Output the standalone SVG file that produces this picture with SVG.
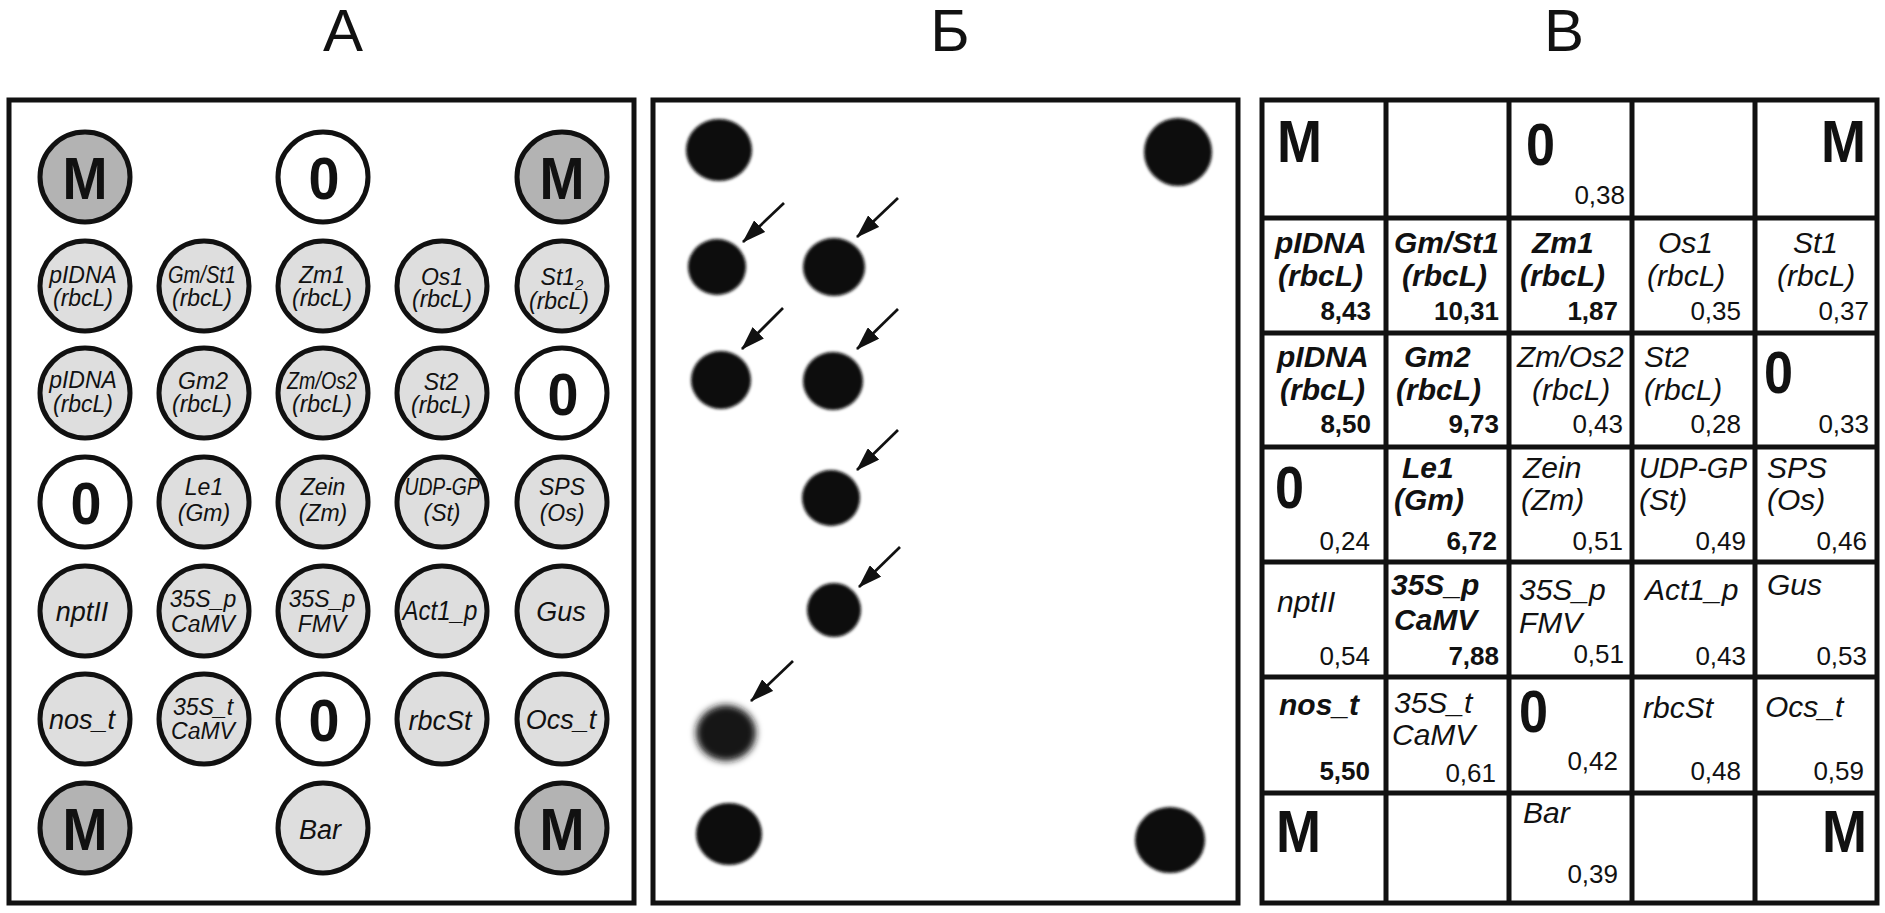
<svg xmlns="http://www.w3.org/2000/svg" width="1885" height="913" viewBox="0 0 1885 913">
<defs>
<style>
text{font-family:"Liberation Sans",Arial,sans-serif;fill:#111}
.ttl{font-size:60px;text-anchor:middle}
.box{fill:none;stroke:#111;stroke-width:5}
.cM{fill:#b3b3b3;stroke:#111;stroke-width:5}
.cL{fill:#dedede;stroke:#111;stroke-width:5}
.c0{fill:#fff;stroke:#111;stroke-width:5}
.big{font-size:60px;font-weight:bold;text-anchor:middle}
.l2{font-size:23px;font-style:italic;text-anchor:middle}
.l1{font-size:27px;font-style:italic;text-anchor:middle}
.g{font-size:30px;font-style:italic}
.gb{font-size:30px;font-style:italic;font-weight:bold}
.n{font-size:26px;text-anchor:end}
.nb{font-size:26px;text-anchor:end;font-weight:bold}
.gbig{font-size:60px;font-weight:bold}
.dot{fill:#0a0a0a;filter:url(#blur)}
.arr{stroke:#111;stroke-width:2.7;marker-end:url(#ah)}
.grid{stroke:#111;stroke-width:5;fill:none}
</style>
<filter id="blur" x="-20%" y="-20%" width="140%" height="140%"><feGaussianBlur stdDeviation="1.8"/></filter>
<filter id="blur2" x="-30%" y="-30%" width="160%" height="160%"><feGaussianBlur stdDeviation="3.5"/></filter>
<marker id="ah" markerUnits="userSpaceOnUse" markerWidth="24" markerHeight="16" viewBox="0 0 24 16" refX="23" refY="8" orient="auto"><path d="M0,0 L24,8 L0,16 z" fill="#111"/></marker>
</defs>
<rect width="1885" height="913" fill="#fff"/>

<g id="titles">
<text class="ttl" x="343" y="51">А</text>
<text class="ttl" x="950" y="51">Б</text>
<text class="ttl" x="1564" y="51">В</text>
</g>

<!-- Panel A -->
<g id="panelA">
<rect class="box" x="9" y="100" width="625" height="803"/>
<g id="a-r0c0"><circle class="cM" cx="85" cy="177" r="45"/><text class="big" x="85" y="199" textLength="45" lengthAdjust="spacingAndGlyphs">M</text></g>
<g id="a-r0c2"><circle class="c0" cx="323" cy="177" r="45"/><text class="big" x="324" y="199" textLength="31" lengthAdjust="spacingAndGlyphs">0</text></g>
<g id="a-r0c4"><circle class="cM" cx="562" cy="177" r="45"/><text class="big" x="562" y="199" textLength="45" lengthAdjust="spacingAndGlyphs">M</text></g>

<g id="a-r1c0"><circle class="cL" cx="85" cy="286" r="45"/><text class="l2" x="83" y="283">pIDNA</text><text class="l2" x="83" y="306">(rbcL)</text></g>
<g id="a-r1c1"><circle class="cL" cx="204" cy="286" r="45"/><text class="l2" x="202" y="283" textLength="68" lengthAdjust="spacingAndGlyphs">Gm/St1</text><text class="l2" x="202" y="306">(rbcL)</text></g>
<g id="a-r1c2"><circle class="cL" cx="323" cy="286" r="45"/><text class="l2" x="322" y="283">Zm1</text><text class="l2" x="322" y="306">(rbcL)</text></g>
<g id="a-r1c3"><circle class="cL" cx="442" cy="286" r="45"/><text class="l2" x="442" y="285">Os1</text><text class="l2" x="442" y="307">(rbcL)</text></g>
<g id="a-r1c4"><circle class="cL" cx="562" cy="286" r="45"/><text class="l2" x="562" y="285">St1<tspan font-size="15" dy="5">2</tspan></text><text class="l2" x="559" y="309">(rbcL)</text></g>

<g id="a-r2c0"><circle class="cL" cx="85" cy="393" r="45"/><text class="l2" x="83" y="388">pIDNA</text><text class="l2" x="83" y="412">(rbcL)</text></g>
<g id="a-r2c1"><circle class="cL" cx="204" cy="393" r="45"/><text class="l2" x="203" y="389">Gm2</text><text class="l2" x="202" y="412">(rbcL)</text></g>
<g id="a-r2c2"><circle class="cL" cx="323" cy="393" r="45"/><text class="l2" x="322" y="389" textLength="70" lengthAdjust="spacingAndGlyphs">Zm/Os2</text><text class="l2" x="322" y="412">(rbcL)</text></g>
<g id="a-r2c3"><circle class="cL" cx="442" cy="393" r="45"/><text class="l2" x="441" y="390">St2</text><text class="l2" x="441" y="413">(rbcL)</text></g>
<g id="a-r2c4"><circle class="c0" cx="562" cy="393" r="45"/><text class="big" x="563" y="415" textLength="31" lengthAdjust="spacingAndGlyphs">0</text></g>

<g id="a-r3c0"><circle class="c0" cx="85" cy="502" r="45"/><text class="big" x="86" y="524" textLength="31" lengthAdjust="spacingAndGlyphs">0</text></g>
<g id="a-r3c1"><circle class="cL" cx="204" cy="502" r="45"/><text class="l2" x="204" y="495">Le1</text><text class="l2" x="204" y="521">(Gm)</text></g>
<g id="a-r3c2"><circle class="cL" cx="323" cy="502" r="45"/><text class="l2" x="323" y="495">Zein</text><text class="l2" x="323" y="521">(Zm)</text></g>
<g id="a-r3c3"><circle class="cL" cx="442" cy="502" r="45"/><text class="l2" x="442" y="495" textLength="75" lengthAdjust="spacingAndGlyphs">UDP-GP</text><text class="l2" x="442" y="521">(St)</text></g>
<g id="a-r3c4"><circle class="cL" cx="562" cy="502" r="45"/><text class="l2" x="562" y="495">SPS</text><text class="l2" x="562" y="521">(Os)</text></g>

<g id="a-r4c0"><circle class="cL" cx="85" cy="611" r="45"/><text class="l1" x="82" y="621">nptII</text></g>
<g id="a-r4c1"><circle class="cL" cx="204" cy="611" r="45"/><text class="l2" x="203" y="607">35S_p</text><text class="l2" x="203" y="632">CaMV</text></g>
<g id="a-r4c2"><circle class="cL" cx="323" cy="611" r="45"/><text class="l2" x="322" y="607">35S_p</text><text class="l2" x="322" y="632">FMV</text></g>
<g id="a-r4c3"><circle class="cL" cx="442" cy="611" r="45"/><text class="l1" x="440" y="620" textLength="75" lengthAdjust="spacingAndGlyphs">Act1_p</text></g>
<g id="a-r4c4"><circle class="cL" cx="562" cy="611" r="45"/><text class="l1" x="561" y="621" font-style="normal">Gus</text></g>

<g id="a-r5c0"><circle class="cL" cx="85" cy="719" r="45"/><text class="l1" x="82" y="729">nos_t</text></g>
<g id="a-r5c1"><circle class="cL" cx="204" cy="719" r="45"/><text class="l2" x="203" y="715">35S_t</text><text class="l2" x="203" y="739">CaMV</text></g>
<g id="a-r5c2"><circle class="c0" cx="323" cy="719" r="45"/><text class="big" x="324" y="741" textLength="31" lengthAdjust="spacingAndGlyphs">0</text></g>
<g id="a-r5c3"><circle class="cL" cx="442" cy="719" r="45"/><text class="l1" x="440" y="730">rbcSt</text></g>
<g id="a-r5c4"><circle class="cL" cx="562" cy="719" r="45"/><text class="l1" x="561" y="729">Ocs_t</text></g>

<g id="a-r6c0"><circle class="cM" cx="85" cy="828" r="45"/><text class="big" x="85" y="850" textLength="45" lengthAdjust="spacingAndGlyphs">M</text></g>
<g id="a-r6c2"><circle class="cL" cx="323" cy="828" r="45"/><text class="l1" x="320" y="839">Bar</text></g>
<g id="a-r6c4"><circle class="cM" cx="562" cy="828" r="45"/><text class="big" x="562" y="850" textLength="45" lengthAdjust="spacingAndGlyphs">M</text></g>
</g>

<!-- Panel B -->
<g id="panelB">
<rect class="box" x="653" y="100" width="585" height="803"/>
<ellipse class="dot" cx="719" cy="150" rx="33" ry="31"/>
<ellipse class="dot" cx="1178" cy="152" rx="34" ry="34"/>
<ellipse class="dot" cx="717" cy="267" rx="29" ry="28"/>
<ellipse class="dot" cx="834" cy="267" rx="31" ry="29"/>
<ellipse class="dot" cx="721" cy="380" rx="30" ry="29"/>
<ellipse class="dot" cx="833" cy="381" rx="30" ry="29"/>
<ellipse class="dot" cx="831" cy="498" rx="29" ry="28"/>
<ellipse class="dot" cx="834" cy="610" rx="27" ry="27"/>
<ellipse cx="726" cy="733" rx="30" ry="28" fill="#151515" filter="url(#blur2)"/>
<ellipse class="dot" cx="729" cy="834" rx="33" ry="31"/>
<ellipse class="dot" cx="1170" cy="840" rx="35" ry="33"/>
</g>
<g id="arrows">
<line class="arr" x1="784" y1="203" x2="743" y2="242"/>
<line class="arr" x1="898" y1="198" x2="857" y2="237"/>
<line class="arr" x1="783" y1="308" x2="742" y2="349"/>
<line class="arr" x1="898" y1="309" x2="857" y2="349"/>
<line class="arr" x1="898" y1="430" x2="857" y2="470"/>
<line class="arr" x1="900" y1="547" x2="859" y2="587"/>
<line class="arr" x1="793" y1="661" x2="751" y2="701"/>
</g>

<!-- Panel C -->
<g id="panelC">
<g id="gridlines">
<rect class="grid" x="1262" y="100" width="615" height="803"/>
<line class="grid" x1="1386" y1="100" x2="1386" y2="903"/>
<line class="grid" x1="1509" y1="100" x2="1509" y2="903"/>
<line class="grid" x1="1632" y1="100" x2="1632" y2="903"/>
<line class="grid" x1="1755" y1="100" x2="1755" y2="903"/>
<line class="grid" x1="1262" y1="218" x2="1877" y2="218"/>
<line class="grid" x1="1262" y1="333" x2="1877" y2="333"/>
<line class="grid" x1="1262" y1="447" x2="1877" y2="447"/>
<line class="grid" x1="1262" y1="562" x2="1877" y2="562"/>
<line class="grid" x1="1262" y1="677" x2="1877" y2="677"/>
<line class="grid" x1="1262" y1="793" x2="1877" y2="793"/>
</g>
<g id="c-r0">
<text class="gbig" x="1277" y="162" textLength="45" lengthAdjust="spacingAndGlyphs">M</text>
<text class="gbig" x="1526" y="165" textLength="29" lengthAdjust="spacingAndGlyphs">0</text><text class="n" x="1625" y="204">0,38</text>
<text class="gbig" x="1821" y="162" textLength="45" lengthAdjust="spacingAndGlyphs">M</text>
</g>
<g id="c-r1">
<text class="gb" x="1275" y="253">pIDNA</text><text class="gb" x="1278" y="286">(rbcL)</text><text class="nb" x="1371" y="320">8,43</text>
<text class="gb" x="1394" y="253">Gm/St1</text><text class="gb" x="1402" y="286">(rbcL)</text><text class="nb" x="1499" y="320">10,31</text>
<text class="gb" x="1532" y="253">Zm1</text><text class="gb" x="1520" y="286">(rbcL)</text><text class="nb" x="1618" y="320">1,87</text>
<text class="g" x="1658" y="253">Os1</text><text class="g" x="1647" y="286">(rbcL)</text><text class="n" x="1741" y="320">0,35</text>
<text class="g" x="1793" y="253">St1</text><text class="g" x="1777" y="286">(rbcL)</text><text class="n" x="1869" y="320">0,37</text>
</g>
<g id="c-r2">
<text class="gb" x="1277" y="367">pIDNA</text><text class="gb" x="1280" y="400">(rbcL)</text><text class="nb" x="1371" y="433">8,50</text>
<text class="gb" x="1404" y="367">Gm2</text><text class="gb" x="1396" y="400">(rbcL)</text><text class="nb" x="1499" y="433">9,73</text>
<text class="g" x="1517" y="367">Zm/Os2</text><text class="g" x="1532" y="400">(rbcL)</text><text class="n" x="1623" y="433">0,43</text>
<text class="g" x="1644" y="367">St2</text><text class="g" x="1644" y="400">(rbcL)</text><text class="n" x="1741" y="433">0,28</text>
<text class="gbig" x="1764" y="393" textLength="29" lengthAdjust="spacingAndGlyphs">0</text><text class="n" x="1869" y="433">0,33</text>
</g>
<g id="c-r3">
<text class="gbig" x="1275" y="508" textLength="29" lengthAdjust="spacingAndGlyphs">0</text><text class="n" x="1370" y="550">0,24</text>
<text class="gb" x="1402" y="478">Le1</text><text class="gb" x="1394" y="510">(Gm)</text><text class="nb" x="1497" y="550">6,72</text>
<text class="g" x="1523" y="478">Zein</text><text class="g" x="1521" y="510">(Zm)</text><text class="n" x="1623" y="550">0,51</text>
<text class="g" x="1639" y="478" textLength="108" lengthAdjust="spacingAndGlyphs">UDP-GP</text><text class="g" x="1639" y="510">(St)</text><text class="n" x="1746" y="550">0,49</text>
<text class="g" x="1767" y="478">SPS</text><text class="g" x="1767" y="510">(Os)</text><text class="n" x="1867" y="550">0,46</text>
</g>
<g id="c-r4">
<text class="g" x="1277" y="612">nptII</text><text class="n" x="1370" y="665">0,54</text>
<text class="gb" x="1391" y="595">35S_p</text><text class="gb" x="1394" y="630">CaMV</text><text class="nb" x="1499" y="665">7,88</text>
<text class="g" x="1519" y="600">35S_p</text><text class="g" x="1519" y="633">FMV</text><text class="n" x="1624" y="663">0,51</text>
<text class="g" x="1645" y="600" font-size="27">Act1_p</text><text class="n" x="1746" y="665">0,43</text>
<text class="g" x="1767" y="595" font-size="25">Gus</text><text class="n" x="1867" y="665">0,53</text>
</g>
<g id="c-r5">
<text class="gb" x="1279" y="715">nos_t</text><text class="nb" x="1370" y="780">5,50</text>
<text class="g" x="1394" y="713">35S_t</text><text class="g" x="1392" y="745">CaMV</text><text class="n" x="1496" y="782">0,61</text>
<text class="gbig" x="1519" y="732" textLength="29" lengthAdjust="spacingAndGlyphs">0</text><text class="n" x="1618" y="770">0,42</text>
<text class="g" x="1643" y="718">rbcSt</text><text class="n" x="1741" y="780">0,48</text>
<text class="g" x="1765" y="717">Ocs_t</text><text class="n" x="1864" y="780">0,59</text>
</g>
<g id="c-r6">
<text class="gbig" x="1276" y="852" textLength="45" lengthAdjust="spacingAndGlyphs">M</text>
<text class="g" x="1523" y="823">Bar</text><text class="n" x="1618" y="883">0,39</text>
<text class="gbig" x="1822" y="852" textLength="45" lengthAdjust="spacingAndGlyphs">M</text>
</g>
</g>
</svg>
